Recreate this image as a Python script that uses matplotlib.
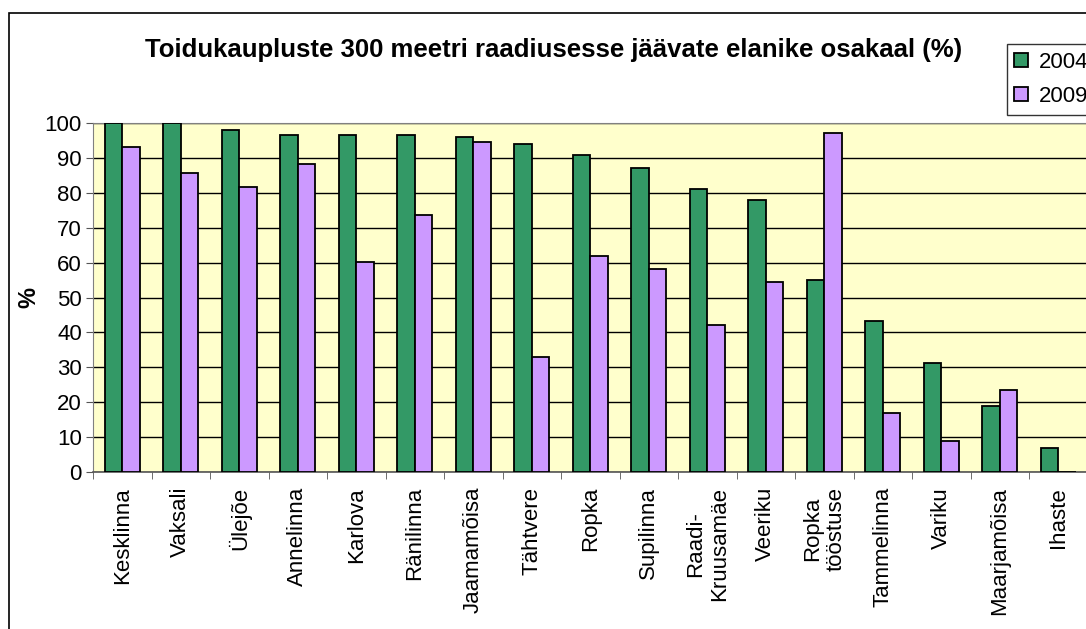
import matplotlib
matplotlib.use("Agg")
import matplotlib.pyplot as plt
import matplotlib.patches as mpatches
import numpy as np

categories = ["Kesklinna", "Vaksali", "Ülejõe", "Annelinna", "Karlova", "Ränilinna",
              "Jaamamõisa", "Tähtvere", "Ropka", "Supilinna", "Raadi-\nKruusamäe",
              "Veeriku", "Ropka\ntööstuse", "Tammelinna", "Variku", "Maarjamõisa", "Ihaste"]
values_2004 = [100, 100, 98.1, 96.7, 96.7, 96.7, 96.0, 94.0, 91.0, 87.2, 81.2,
               78.0, 55.0, 43.2, 31.1, 18.8, 6.8]
values_2009 = [93.1, 85.8, 81.6, 88.2, 60.3, 73.8, 94.5, 33.0, 61.8, 58.2, 42.2,
               54.5, 97.3, 16.9, 8.7, 23.4, 0]
series_labels = ["2004", "2009"]
title = "Toidukaupluste 300 meetri raadiusesse jäävate elanike osakaal (%)"

plt.rcParams['font.family'] = ['Liberation Sans', 'DejaVu Sans']

W, H = 1086, 629
fig = plt.figure(figsize=(W / 100, H / 100), dpi=100)
fig.patch.set_facecolor('white')

x0, x1 = 93, 93 + 17 * 58.5
y_top, y_bot = 123.3, 471.7
ax = fig.add_axes([x0 / W, 1 - y_bot / H, (x1 - x0) / W, (y_bot - y_top) / H])
ax.set_facecolor('#FFFFCC')

x = np.arange(len(categories))
bw = 0.3
ax.bar(x - bw / 2, values_2004, bw, color='#339966', edgecolor='black', linewidth=1.3, zorder=3,
       label=series_labels[0])
ax.bar(x + bw / 2, values_2009, bw, color='#CC99FF', edgecolor='black', linewidth=1.3, zorder=3,
       label=series_labels[1])

ax.set_xlim(-0.5, len(categories) - 0.5)
ax.set_ylim(0, 100)
ax.set_yticks(np.arange(0, 101, 10))
ax.yaxis.grid(True, color='black', linewidth=1, zorder=1)
ax.set_axisbelow(True)

ax.set_xticks(x)
ax.set_xticklabels(categories, rotation=90, va='top', ha='center', multialignment='center',
                   fontsize=16)
ax.tick_params(axis='x', which='major', length=0, pad=11)
ax.set_xticks(np.arange(-0.5, len(categories), 1), minor=True)
ax.tick_params(axis='x', which='minor', length=5, direction='out', color='#555555')
ax.tick_params(axis='y', length=5, direction='out', color='#555555', labelsize=16, pad=3)

for s in ['top', 'right']:
    ax.spines[s].set_color('#808080')
ax.spines['left'].set_color('#808080')
ax.spines['bottom'].set_color('#555555')
ax.spines['bottom'].set_linewidth(1.2)

ax.set_ylabel('%', fontsize=17, fontweight='bold', labelpad=3)

fig.text(554 / W, 1 - 50 / H, title, ha='center', va='center', fontsize=18.5, fontweight='bold')

# chart area border
fig.patches.append(mpatches.Rectangle((8.5 / W, -0.1), 1.2, 1.1 - 12.5 / H,
                                      transform=fig.transFigure, fill=False,
                                      edgecolor='black', linewidth=1.2))

handles, labels = ax.get_legend_handles_labels()
leg = fig.legend(handles, labels, loc='upper left', bbox_to_anchor=(1006.5 / W, 1 - 44 / H),
                 frameon=True, fancybox=False, edgecolor='black', fontsize=16,
                 handlelength=0.6, handleheight=0.6, handletextpad=0.5,
                 borderaxespad=0, borderpad=0.35, labelspacing=0.6)
leg.get_frame().set_linewidth(1.0)

fig.savefig('out.png', dpi=100)
